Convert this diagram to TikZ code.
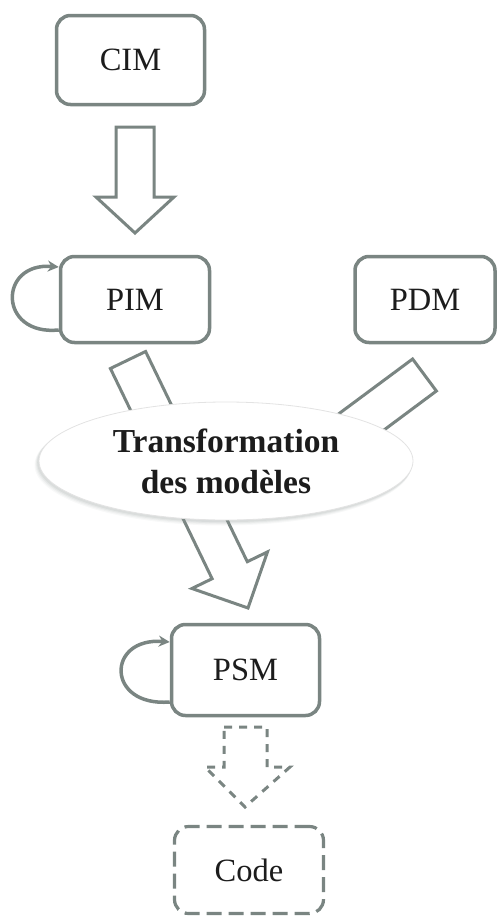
\documentclass[tikz,border=0pt]{standalone}
\usepackage{fontspec}
\setmainfont{Liberation Serif}
\usetikzlibrary{arrows.meta,shapes.geometric,calc}
\definecolor{gc}{RGB}{122,133,130}
\definecolor{tc}{RGB}{28,28,28}
\definecolor{shc}{RGB}{140,150,148}
\begin{document}
\begin{tikzpicture}[x=1pt,y=-1pt,
  box/.style={draw=gc, line width=3.5pt, rounded corners=14pt, fill=white,
    text=tc, font=\fontsize{32.5}{38}\selectfont, inner sep=0pt},
  dbox/.style={box, line width=3.2pt, dash pattern=on 15pt off 7pt},
  blockarrow/.style={draw=gc, line width=3pt, line join=miter, fill=white},
  dblockarrow/.style={blockarrow, dash pattern=on 8pt off 7pt},
  loopline/.style={draw=gc, line width=3.5pt, -{Stealth[length=11pt,width=11pt]}},
]
\useasboundingbox (0,0) rectangle (497,918);

% nodes
\node[box, minimum width=148pt, minimum height=89pt] (CIM) at (130.5,60) {CIM};
\node[box, minimum width=149pt, minimum height=86pt] (PIM) at (135,299.5) {PIM};
\node[box, minimum width=140pt, minimum height=86pt] (PDM) at (425,299.5) {PDM};
\node[box, minimum width=148pt, minimum height=91pt] (PSM) at (245.5,670) {PSM};
\node[dbox, minimum width=149pt, minimum height=87pt] (Code) at (249,870) {Code};

% CIM -> PIM block arrow
\draw[blockarrow] (116,127) -- (154,127) -- (154,197) -- (174,197) -- (135,233)
  -- (96,197) -- (116,197) -- cycle;

% PIM -> PSM block arrow (through transformation)
\draw[blockarrow] (110.4,368.5) -- (212.1,578.7) -- (191.9,588.5) -- (248,608)
  -- (267.5,551.9) -- (247.3,561.7) -- (145.6,351.5) -- cycle;

% PDM -> transformation (shaft, end hidden under ellipse)
\draw[blockarrow] (412.6,359) -- (308.3,436.4) -- (332.1,468.6) -- (436.4,391) -- cycle;

% shadow of the ellipse
\foreach \o/\a in {5/0.06,4/0.08,3/0.1,2/0.13}{
  \fill[shc, opacity=\a] (226-\o*0.6,461+\o*0.8) ellipse [x radius=187pt+\o*0.3pt, y radius=59pt+\o*0.3pt];
}
% transformation ellipse
\node[ellipse, draw=gray!22, line width=0.8pt, fill=white, minimum width=374pt,
  minimum height=118pt, inner sep=0pt, align=center, text=tc,
  font=\bfseries\fontsize{33.5}{41}\selectfont] (T) at (226,461)
  {Transformation\\des modèles};

% PSM -> Code dashed block arrow
\draw[dblockarrow] (224,727) -- (267,727) -- (267,767) -- (290,767) -- (245,807)
  -- (205,767) -- (224,767) -- cycle;

% self loops
\draw[loopline] ($(PIM.west)+(0,30.5)$) .. controls (-2,336) and (-2,262) .. ($(PIM.west)+(0,-32.5)$);
\draw[loopline] ($(PSM.west)+(0,32)$) .. controls (106,707) and (106,637) .. ($(PSM.west)+(0,-28)$);
\end{tikzpicture}
\end{document}
